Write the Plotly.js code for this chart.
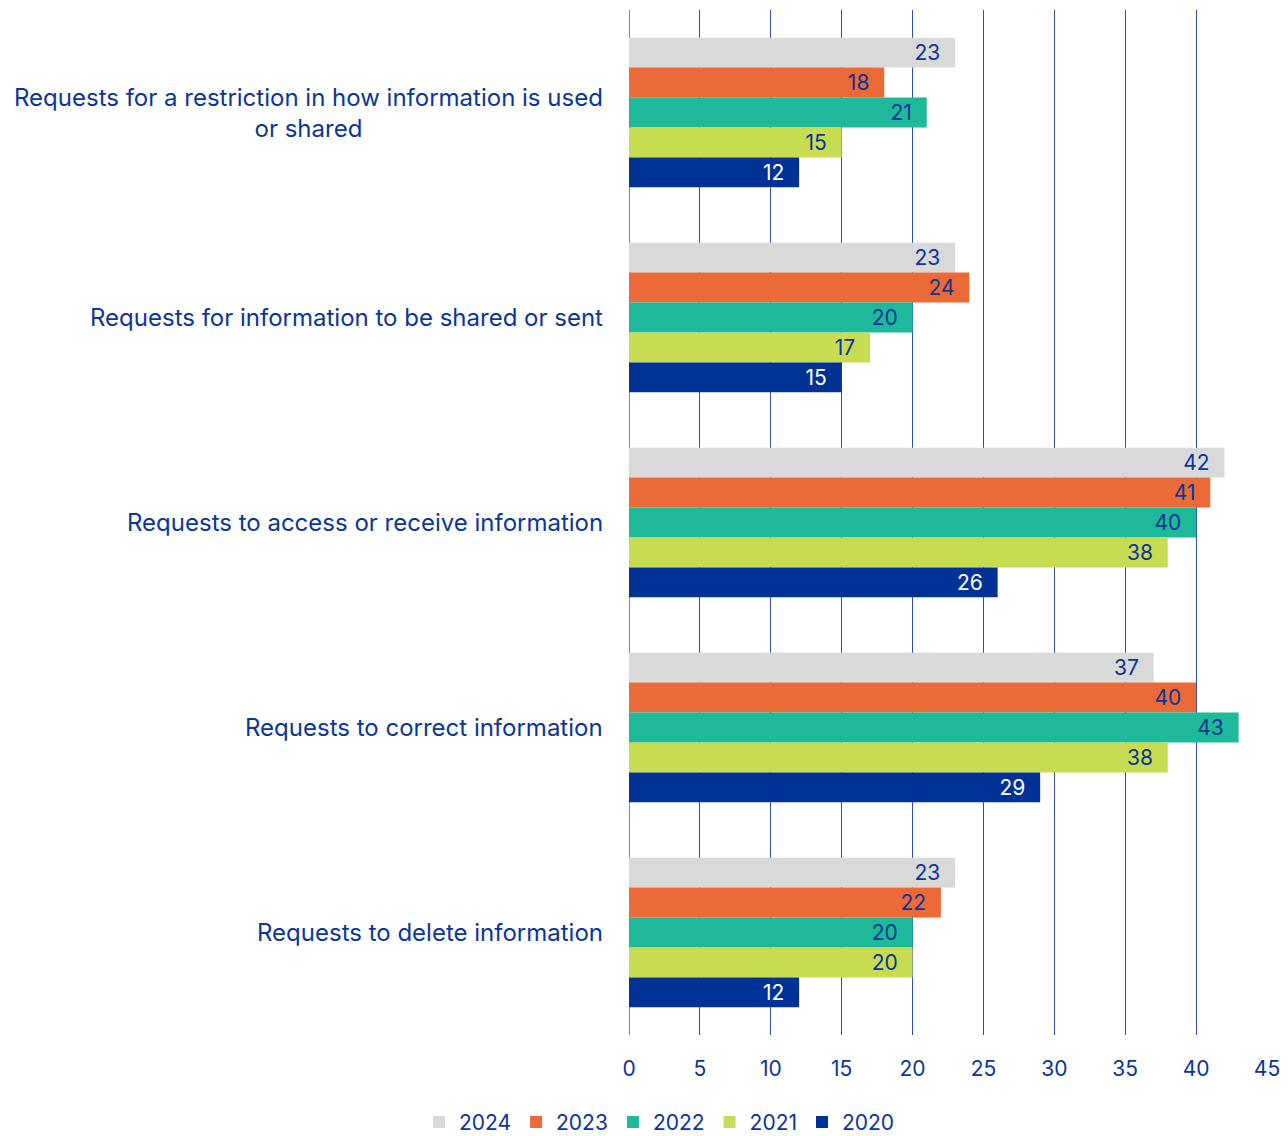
<!DOCTYPE html>
<html>
<head>
<meta charset="utf-8">
<script src="https://cdn.plot.ly/plotly-3.0.1.min.js"></script>
<style>html,body{margin:0;padding:0;background:#fff;}#chart{width:1288px;height:1136px;}</style>
</head>
<body>
<div id="chart"></div>
<script>
const categories = [
  "Requests for a restriction in how information is used<br>or shared",
  "Requests for information to be shared or sent",
  "Requests to access or receive information",
  "Requests to correct information",
  "Requests to delete information"
];
const years = ["2024", "2023", "2022", "2021", "2020"];
const v2024 = [23, 23, 42, 37, 23];
const v2023 = [18, 24, 41, 40, 22];
const v2022 = [21, 20, 40, 43, 20];
const v2021 = [15, 17, 38, 38, 20];
const v2020 = [12, 15, 26, 29, 12];
const seriesValues = [v2024, v2023, v2022, v2021, v2020];
const colors = ["#D9D9D9", "#EC6A37", "#1DB99A", "#C8DC52", "#003296"];
const labelColors = ["#0A3696", "#0A3696", "#0A3696", "#0A3696", "#FFFFFF"];
const xTicks = [0, 5, 10, 15, 20, 25, 30, 35, 40, 45];

const FONT = "Inter, 'Noto Sans', sans-serif";
const BLUE = "#0A3696";

const traces = years.map((yr, i) => ({
  type: "bar",
  orientation: "h",
  name: yr,
  x: seriesValues[i],
  y: categories,
  marker: {color: colors[i], line: {width: 0}},
  text: seriesValues[i].map(v => String(v)),
  texttemplate: "%{text}\u00a0\u00a0",
  textposition: "inside",
  insidetextanchor: "end",
  constraintext: "none",
  textfont: {family: FONT, size: 21, color: labelColors[i]},
  hoverinfo: "skip"
}));

const annotations = categories.map(c => ({
  xref: "paper", yref: "y", x: 0, y: c,
  xanchor: "right", yanchor: "middle", xshift: -24,
  text: c, showarrow: false, align: "center",
  font: {family: FONT, size: 24, color: BLUE}
}));

const layout = {
  width: 1288, height: 1136,
  margin: {l: 629, r: 21, t: 10, b: 101},
  paper_bgcolor: "#fff", plot_bgcolor: "#fff",
  barmode: "group", bargap: 0.27, bargroupgap: 0,
  font: {family: FONT, color: BLUE},
  xaxis: {
    range: [0, 45], tickvals: xTicks, ticktext: xTicks.map(String),
    showgrid: true, gridcolor: "#2F50A8", gridwidth: 1,
    zeroline: true, zerolinecolor: "#6F88C8", zerolinewidth: 1,
    showline: false, ticks: "", ticklabelstandoff: 19,
    tickfont: {family: FONT, size: 21, color: BLUE}, fixedrange: true
  },
  yaxis: {
    type: "category", autorange: "reversed",
    showticklabels: false, showgrid: false, zeroline: false, ticks: "",
    fixedrange: true
  },
  legend: {
    orientation: "h", xref: "container", yref: "container",
    x: 0.512, xanchor: "center", y: 0.012, yanchor: "middle",
    font: {family: FONT, size: 21, color: BLUE},
    itemwidth: 30, tracegroupgap: 0, traceorder: "normal"
  },
  annotations: annotations,
  showlegend: true
};

Plotly.newPlot("chart", traces, layout, {displayModeBar: false, staticPlot: true});
</script>
</body>
</html>
